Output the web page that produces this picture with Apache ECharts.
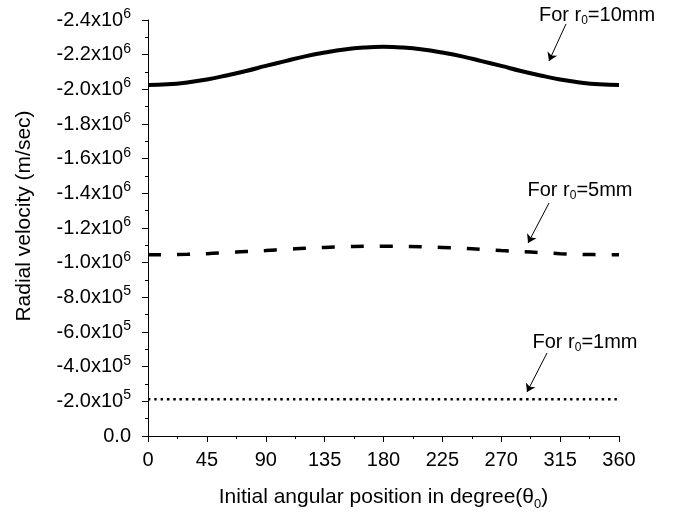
<!DOCTYPE html>
<html>
<head>
<meta charset="utf-8">
<script src="https://cdn.jsdelivr.net/npm/echarts@6/dist/echarts.min.js"></script>
<style>
  html, body { margin: 0; padding: 0; background: #fff; }
  #main { width: 694px; height: 512px; }
</style>
</head>
<body>
<div id="main"></div>
<script>
// angle of the initial position, degrees
var angles = [0, 15, 30, 45, 60, 75, 90, 105, 120, 135, 150, 165, 180,
              195, 210, 225, 240, 255, 270, 285, 300, 315, 330, 345, 360];

// radial velocity (m/sec)
var vel10mm = [-2.025e6, -2.029e6, -2.040e6, -2.057e6, -2.080e6, -2.106e6, -2.135e6,
               -2.163e6, -2.190e6, -2.212e6, -2.230e6, -2.241e6, -2.245e6,
               -2.241e6, -2.230e6, -2.212e6, -2.190e6, -2.163e6, -2.135e6,
               -2.106e6, -2.080e6, -2.057e6, -2.040e6, -2.029e6, -2.025e6];
var vel5mm = [-1.045e6, -1.046e6, -1.048e6, -1.052e6, -1.058e6, -1.064e6, -1.070e6,
              -1.077e6, -1.083e6, -1.088e6, -1.092e6, -1.094e6, -1.095e6,
              -1.094e6, -1.092e6, -1.088e6, -1.083e6, -1.077e6, -1.070e6,
              -1.064e6, -1.058e6, -1.052e6, -1.048e6, -1.046e6, -1.045e6];
var vel1mm = [-2.12e5, -2.12e5, -2.12e5, -2.12e5, -2.12e5, -2.12e5, -2.12e5,
              -2.12e5, -2.12e5, -2.12e5, -2.12e5, -2.12e5, -2.12e5,
              -2.12e5, -2.12e5, -2.12e5, -2.12e5, -2.12e5, -2.12e5,
              -2.12e5, -2.12e5, -2.12e5, -2.12e5, -2.12e5, -2.12e5];

// labels of the three curves and where their arrows point (tail, head)
var curveNames = ['10mm', '5mm', '1mm'];
var arrowTails = [[319.5, -2.377e6], [306.5, -1.344e6], [305, -0.479e6]];
var arrowHeads = [[306.5, -2.164e6], [290.5, -1.114e6], [289.7, -0.254e6]];

var FONT = 'Liberation Sans, Arial, sans-serif';

function pairs(xs, ys) {
    var out = [];
    for (var i = 0; i < xs.length; i++) {
        out.push([xs[i], ys[i]]);
    }
    return out;
}

function sciLabel(v) {
    if (v === 0) return '0.0';
    var e = Math.floor(Math.log10(Math.abs(v)) + 1e-9);
    var m = (v / Math.pow(10, e)).toFixed(1);
    return m + 'x10{sup|' + e + '}';
}

function arrow(i) {
    return [
        { coord: arrowTails[i], symbol: 'none' },
        { coord: arrowHeads[i], symbol: 'arrow' }
    ];
}

var myChart = echarts.init(document.getElementById('main'));

var option = {
    animation: false,
    backgroundColor: '#fff',
    grid: { left: 148, right: 75, top: 20, bottom: 76, outerBoundsMode: 'none' },
    xAxis: {
        type: 'value',
        min: 0, max: 360, interval: 45,
        name: 'Initial angular position in degree(θ{sub|0})',
        nameLocation: 'middle',
        nameGap: 48,
        nameTextStyle: {
            fontFamily: FONT, fontSize: 21, color: '#000',
            rich: { sub: { fontSize: 13, fontFamily: FONT, color: '#000', padding: [14, 0, 0, 0] } }
        },
        axisLine: { show: true, lineStyle: { color: '#000', width: 1 } },
        axisTick: { show: true, inside: false, length: 6, lineStyle: { color: '#000' } },
        minorTick: { show: true, splitNumber: 2, length: 3, lineStyle: { color: '#000' } },
        splitLine: { show: false },
        axisLabel: { fontFamily: FONT, fontSize: 20, color: '#000', margin: 14 }
    },
    yAxis: {
        type: 'value',
        inverse: true,
        min: -2.4e6, max: 0, interval: 2e5,
        name: 'Radial velocity (m/sec)',
        nameLocation: 'middle',
        nameGap: 113,
        nameTextStyle: { fontFamily: FONT, fontSize: 21, color: '#000', padding: [0, 0, 0, 24] },
        axisLine: { show: true, lineStyle: { color: '#000', width: 1 } },
        axisTick: { show: true, inside: false, length: 6, lineStyle: { color: '#000' } },
        minorTick: { show: true, splitNumber: 2, length: 3, lineStyle: { color: '#000' } },
        splitLine: { show: false },
        axisLabel: {
            fontFamily: FONT, fontSize: 20, color: '#000', margin: 17,
            formatter: sciLabel,
            rich: { sup: { fontSize: 14, fontFamily: FONT, color: '#000', padding: [0, 0, 12, 0] } }
        }
    },
    series: [
        {
            name: curveNames[0], type: 'line', data: pairs(angles, vel10mm),
            smooth: true, showSymbol: false,
            lineStyle: { color: '#000', width: 4 },
            markLine: {
                silent: true, symbolSize: 8,
                lineStyle: { color: '#000', width: 1, type: 'solid' },
                label: { show: false },
                data: [arrow(0)]
            }
        },
        {
            name: curveNames[1], type: 'line', data: pairs(angles, vel5mm),
            smooth: true, showSymbol: false,
            lineStyle: { color: '#000', width: 3.5, type: [13, 16] },
            markLine: {
                silent: true, symbolSize: 8,
                lineStyle: { color: '#000', width: 1, type: 'solid' },
                label: { show: false },
                data: [arrow(1)]
            }
        },
        {
            name: curveNames[2], type: 'line', data: pairs(angles, vel1mm),
            smooth: true, showSymbol: false,
            lineStyle: { color: '#000', width: 2.5, type: [2.5, 3.8] },
            markLine: {
                silent: true, symbolSize: 8,
                lineStyle: { color: '#000', width: 1, type: 'solid' },
                label: { show: false },
                data: [arrow(2)]
            }
        }
    ]
};
myChart.setOption(option);

// curve labels, placed above the tail of each arrow
var labelPos = [[597, 15], [580, 190], [585, 342]];
var texts = [];
for (var i = 0; i < curveNames.length; i++) {
    texts.push({
        type: 'text',
        x: labelPos[i][0], y: labelPos[i][1],
        style: {
            text: 'For r{sub|0}=' + curveNames[i],
            fontFamily: FONT, fontSize: 20, fill: '#000',
            align: 'center', verticalAlign: 'middle',
            rich: { sub: { fontSize: 12, fontFamily: FONT, fill: '#000', padding: [12, 0, 0, 0] } }
        }
    });
}
myChart.setOption({ graphic: texts });
</script>
</body>
</html>
